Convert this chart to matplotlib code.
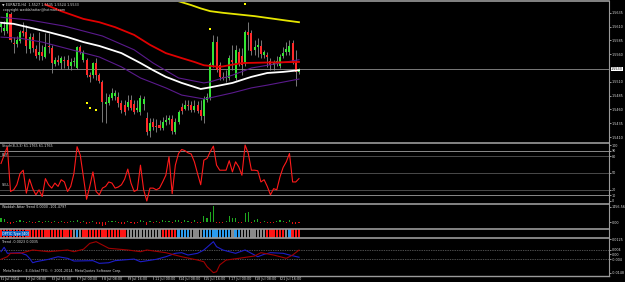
import matplotlib
matplotlib.use('Agg')
import matplotlib.pyplot as plt
from matplotlib.patches import Rectangle

W, H = 625, 282

# ---------------- data ----------------
symbol_title = "EURNZD,H4  1.5527 1.5535 1.5524 1.5533"
copyright_txt = "copyright waddahattar@hotmail.com"
footer_txt = "MetaTrader - E-Global TFG, \u00a9 2001-2014, MetaQuotes Software Corp."

opens = [1.5609,1.5602,1.5602,1.5633,1.5580,1.5578,1.5584,1.5602,1.5600,1.5569,
         1.5591,1.5569,1.5559,1.5564,1.5555,1.5575,1.5571,1.5542,1.5550,1.5544,
         1.5550,1.5550,1.5539,1.5546,1.5535,1.5573,1.5550,1.5550,1.5522,1.5522,
         1.5544,1.5522,1.5510,1.5470,1.5472,1.5481,1.5484,1.5482,1.5472,1.5468,
         1.5464,1.5477,1.5470,1.5459,1.5455,1.5470,1.5444,1.5421,1.5437,1.5430,
         1.5432,1.5426,1.5437,1.5441,1.5443,1.5419,1.5437,1.5464,1.5461,1.5468,
         1.5468,1.5459,1.5468,1.5459,1.5448,1.5477,1.5481,1.5540,1.5582,1.5540,
         1.5519,1.5517,1.5517,1.5550,1.5517,1.5564,1.5557,1.5544,1.5600,1.5598,
         1.5568,1.5573,1.5575,1.5559,1.5559,1.5548,1.5540,1.5546,1.5539,1.5557,
         1.5564,1.5564,1.5580,1.5546,1.5527]
closes = [1.5615,1.5607,1.5635,1.5586,1.5578,1.5586,1.5600,1.5598,1.5575,1.5591,
          1.5571,1.5557,1.5564,1.5557,1.5573,1.5573,1.5544,1.5550,1.5546,1.5553,
          1.5548,1.5539,1.5546,1.5548,1.5573,1.5564,1.5564,1.5522,1.5519,1.5544,
          1.5522,1.5511,1.5473,1.5473,1.5482,1.5490,1.5490,1.5472,1.5459,1.5455,
          1.5473,1.5463,1.5455,1.5463,1.5481,1.5479,1.5419,1.5435,1.5428,1.5428,
          1.5426,1.5437,1.5441,1.5444,1.5421,1.5437,1.5455,1.5457,1.5468,1.5466,
          1.5459,1.5466,1.5457,1.5448,1.5479,1.5482,1.5542,1.5582,1.5531,1.5519,
          1.5517,1.5519,1.5553,1.5546,1.5568,1.5542,1.5540,1.5600,1.5595,1.5566,
          1.5573,1.5577,1.5560,1.5564,1.5555,1.5540,1.5546,1.5548,1.5555,1.5562,
          1.5569,1.5575,1.5546,1.5527,1.5533]
highs = [1.5618,1.5620,1.5637,1.5637,1.5591,1.5593,1.5604,1.5618,1.5613,1.5598,
         1.5598,1.5577,1.5600,1.5577,1.5598,1.5598,1.5577,1.5555,1.5559,1.5557,
         1.5557,1.5559,1.5553,1.5555,1.5575,1.5577,1.5568,1.5553,1.5528,1.5546,
         1.5553,1.5526,1.5513,1.5490,1.5488,1.5499,1.5495,1.5492,1.5477,1.5477,
         1.5486,1.5486,1.5477,1.5477,1.5486,1.5484,1.5455,1.5444,1.5444,1.5443,
         1.5441,1.5446,1.5450,1.5450,1.5450,1.5444,1.5459,1.5472,1.5477,1.5477,
         1.5475,1.5477,1.5475,1.5477,1.5484,1.5490,1.5546,1.5595,1.5593,1.5546,
         1.5528,1.5531,1.5559,1.5577,1.5577,1.5571,1.5571,1.5604,1.5618,1.5604,
         1.5586,1.5589,1.5586,1.5568,1.5564,1.5553,1.5550,1.5557,1.5560,1.5573,
         1.5582,1.5586,1.5586,1.5568,1.5535]
lows = [1.5600,1.5595,1.5598,1.5582,1.5562,1.5573,1.5580,1.5593,1.5562,1.5562,
        1.5564,1.5553,1.5550,1.5550,1.5553,1.5562,1.5526,1.5539,1.5540,1.5533,
        1.5535,1.5533,1.5531,1.5539,1.5533,1.5560,1.5546,1.5519,1.5510,1.5517,
        1.5513,1.5508,1.5437,1.5435,1.5468,1.5477,1.5477,1.5464,1.5453,1.5450,
        1.5459,1.5459,1.5452,1.5455,1.5450,1.5459,1.5414,1.5410,1.5423,1.5419,
        1.5423,1.5423,1.5432,1.5434,1.5415,1.5415,1.5434,1.5452,1.5459,1.5459,
        1.5455,1.5455,1.5453,1.5441,1.5435,1.5473,1.5477,1.5537,1.5528,1.5513,
        1.5513,1.5510,1.5513,1.5531,1.5513,1.5539,1.5522,1.5539,1.5568,1.5559,
        1.5559,1.5555,1.5553,1.5553,1.5537,1.5531,1.5531,1.5539,1.5535,1.5553,
        1.5559,1.5559,1.5542,1.5502,1.5524]
last_price = 1.5533

# moving averages: (bar, price) vertices
ma_white_bars = [0, 4, 10, 15, 21, 26, 31, 38, 44, 48, 52, 57, 63, 66, 73, 79, 84, 89, 94]
ma_white = [1.5617,1.5615,1.5607,1.5600,1.5591,1.5582,1.5575,1.5562,1.5544,1.5531,
            1.5519,1.5508,1.5497,1.5500,1.5508,1.5519,1.5526,1.5528,1.5531]
ma_red_bars = [14, 19, 26, 31, 36, 42, 47, 52, 57, 61, 64, 69, 76, 84, 94]
ma_red = [1.5650,1.5638,1.5624,1.5618,1.5609,1.5595,1.5577,1.5562,1.5553,1.5546,
          1.5540,1.5537,1.5544,1.5545,1.5546]
ma_yellow_bars = [54, 56, 60, 63, 66, 70, 75, 80, 85, 90, 94]
ma_yellow = [1.5660,1.5656,1.5649,1.5643,1.5638,1.5635,1.5632,1.5629,1.5625,1.5621,1.5618]
band_up_bars = [0, 9, 20, 32, 42, 48, 56, 64, 66, 73, 79, 84, 94]
band_up = [1.5627,1.5622,1.5611,1.5593,1.5568,1.5544,1.5517,1.5508,1.5510,1.5522,
           1.5535,1.5540,1.5550]
band_dn_bars = [0, 6, 13, 25, 31, 38, 44, 52, 57, 64, 66, 73, 79, 84, 94]
band_dn = [1.5591,1.5589,1.5582,1.5564,1.5555,1.5537,1.5517,1.5499,1.5486,1.5479,
           1.5481,1.5490,1.5499,1.5504,1.5515]
signal_bars = [27, 28, 30, 66, 77]
signal_prices = [1.5472, 1.5463, 1.5459, 1.5606, 1.5651]

price_ticks = [1.5635, 1.5610, 1.5585, 1.5560, 1.5510, 1.5485, 1.5460, 1.5435, 1.5410]

stoch = [67,82,97,17,20,29,49,55,14,39,
         22,11,20,8,40,29,23,32,26,38,
         34,17,26,49,97,82,43,3,26,52,
         17,11,23,26,34,32,23,25,29,39,
         57,32,17,20,64,20,0,23,23,20,
         23,34,46,79,13,64,85,92,90,86,
         84,70,49,29,73,76,88,98,64,55,
         55,55,72,52,70,61,46,100,85,55,
         55,54,34,38,26,11,22,20,43,60,
         70,85,34,34,40]
stoch_levels = [90, 80, 50, 20, 10]

waddah = [390,290,-100,-150,-100,100,150,100,-100,100,
          -100,-100,50,-100,100,50,-100,100,-50,50,
          -50,-100,50,50,190,-100,100,-150,-100,100,
          -190,-150,-390,-290,100,100,100,-100,-150,-150,
          100,-100,-190,-100,150,100,-290,100,-100,100,
          -100,150,100,100,-100,150,190,-50,190,100,
          -100,150,-100,-100,580,390,970,1550,-100,-100,
          -100,100,580,390,390,-100,-100,870,970,-100,
          190,290,-100,100,-100,-100,-100,100,190,100,
          -100,190,-190,-190,-100]

optic_states = ("RRRRRRRRRRRRRRRRRRRRRRR" "GBG" "RRRRRRRRRRRRRR" "GGGGGGGGGGG" "RRRRR"
                "BBBB" "GGGG" "BBBBBBBBB" "G" "BB" "GGGGGGGG" "RRRRRR" "G" "B" "RRR")

trend_blue_bars = [0,1,2,6,8,9,10,11,15,18,21,23,29,31,34,36,42,44,49,52,55,57,59,62,
                   64,67,68,70,72,74,77,80,81,83,85,89,91,94]
trend_blue = [0.0022,0.0058,0.0009,0.0014,-0.0005,-0.0032,-0.0068,-0.0060,-0.0040,-0.0019,
              -0.0032,-0.0054,-0.0051,-0.0073,-0.0068,-0.0051,-0.0038,-0.0060,-0.0040,-0.0019,
              0.0009,0.0014,-0.0005,0.0009,0.0036,0.0104,0.0063,0.0036,0.0022,0.0009,
              0.0036,-0.0005,-0.0019,0.0001,0.0014,0.0009,-0.0005,-0.0023]
trend_red_bars = [0,2,3,6,8,10,15,21,23,26,28,30,34,40,44,46,52,57,62,64,65,67,68,69,
                  71,75,80,82,86,90,92,94]
trend_red = [-0.0040,-0.0019,0.0009,0.0009,0.0022,0.0036,0.0022,0.0036,0.0022,0.0042,
             0.0090,0.0104,0.0050,0.0036,0.0022,0.0036,0.0014,-0.0019,-0.0046,-0.0060,
             -0.0100,-0.0149,-0.0141,-0.0086,-0.0046,-0.0032,-0.0013,0.0014,-0.0005,-0.0032,
             -0.0005,0.0035]
trend_levels = [0.004, -0.004]

time_label_bars = [0, 8, 16, 24, 32, 40, 48, 56, 64, 72, 80, 88]
time_labels = ["1 Jul 2014", "2 Jul 08:00", "3 Jul 16:00", "7 Jul 00:00", "8 Jul 08:00",
               "9 Jul 16:00", "11 Jul 00:00", "14 Jul 08:00", "15 Jul 16:00",
               "17 Jul 00:00", "18 Jul 08:00", "21 Jul 16:00"]

# ---------------- layout helpers ----------------
BAR_PX = 3.17
PANE_W = 609
XLIM = (-1 / BAR_PX, (PANE_W - 1) / BAR_PX)
FS = 2.4
TXT = '#d8d8d8'
SEP = '#9a9a9a'

fig = plt.figure(figsize=(W / 100, H / 100), dpi=100, facecolor='black')


def pane(y0, y1):
    ax = fig.add_axes([0, 1 - y1 / H, PANE_W / W, (y1 - y0) / H])
    ax.set_facecolor('black')
    ax.set_xlim(*XLIM)
    ax.set_xticks([])
    for s in ax.spines.values():
        s.set_visible(False)
    ax.yaxis.tick_right()
    ax.tick_params(axis='y', colors=TXT, labelsize=FS, length=1.2, width=0.5, pad=0.8)
    return ax


def fx(x):
    return x / W


def fy(y):
    return 1 - y / H


# ---------------- main pane ----------------
ax = pane(2, 141)
ax.set_ylim(1.54028, 1.56546)
idx = list(range(len(opens)))
for i in idx:
    o, c, h, l = opens[i], closes[i], highs[i], lows[i]
    ax.vlines(i, l, h, color='#8c8c8c', lw=0.6, zorder=2)
    col = '#33e533' if c > o else ('#ff2a2a' if c < o else '#8c8c8c')
    bh = abs(c - o)
    ax.add_patch(Rectangle((i - 0.32, min(o, c)), 0.64, max(bh, 0.00006),
                           facecolor=col, edgecolor='none', zorder=3))
ax.plot(band_up_bars, band_up, color='#5a1a8c', lw=0.8, zorder=4)
ax.plot(band_dn_bars, band_dn, color='#5a1a8c', lw=0.8, zorder=4)
ax.plot(ma_red_bars, ma_red, color='#e00000', lw=1.3, zorder=4)
ax.plot(ma_white_bars, ma_white, color='white', lw=1.3, zorder=5)
ax.plot(ma_yellow_bars, ma_yellow, color='#e6e600', lw=1.3, zorder=4)
ax.scatter(signal_bars, signal_prices, s=2.5, marker='s', color='#ffff00', zorder=6, linewidths=0)
ax.axhline(last_price, color='#7a7a7a', lw=0.7, zorder=1)
ax.set_yticks(price_ticks)
ax.set_yticklabels([f"{v:.4f}" for v in price_ticks])
ax.text(1.0 + 2 / PANE_W, last_price, f"{last_price:.4f}", transform=ax.get_yaxis_transform(),
        fontsize=FS, color='black', va='center', ha='left',
        bbox=dict(boxstyle='square,pad=0.1', fc='white', ec='none'))
fig.text(fx(2), fy(4.5), "\u25bc " + symbol_title, fontsize=FS, color=TXT, va='center', ha='left')
fig.text(fx(3), fy(9.5), copyright_txt, fontsize=FS, color=TXT, va='center', ha='left')

# ---------------- stochastic pane ----------------
ax2 = pane(143, 203)
ax2.set_ylim(-3.6, 103.6)
for lv in stoch_levels:
    ax2.axhline(lv, color='#8a8a8a' if lv in (90, 10) else '#4a4a4a', lw=0.7, zorder=1)
ax2.plot(idx, stoch, color='#ff1a1a', lw=0.8, zorder=3)
ax2.set_yticks([100] + stoch_levels + [0])
ax2.set_yticklabels(["100"] + [str(v) for v in stoch_levels] + ["0"])
fig.text(fx(2), fy(146.5), "Stoch(8,3,3) 61.1765 61.1765", fontsize=FS, color=TXT, va='center')
fig.text(fx(2), fy(155.5), "BUY", fontsize=FS, color=TXT, va='center')
fig.text(fx(2), fy(185), "SELL", fontsize=FS, color=TXT, va='center')

# ---------------- waddah pane ----------------
ax3 = pane(204, 228)
ax3.set_ylim(-582, 1746)
wcols = ['#1fa81f' if v > 0 else '#e01010' for v in waddah]
ax3.bar(idx, waddah, width=0.35, color=wcols, zorder=3)
ax3.set_yticks([1456.56, 0])
ax3.set_yticklabels(["1456.56", "0.00"])
fig.text(fx(2), fy(207), "Waddah Attar Trend 0.0000 -101.4797", fontsize=FS, color=TXT, va='center')

# ---------------- optic colour pane ----------------
ax4 = pane(229, 238)
ax4.set_ylim(0, 1)
ax4.set_yticks([])
cmap = {'R': '#ff1414', 'G': '#8a8a8a', 'B': '#2a9cf0'}
ax4.bar(idx, [1] * len(optic_states), width=0.72, bottom=0,
        color=[cmap[s] for s in optic_states], zorder=2)
fig.text(fx(2), fy(233.5), "OPTIC Type [40]", fontsize=FS, color='white', va='center',
         bbox=dict(boxstyle='square,pad=0.15', fc='#1565c0', ec='none'))

# ---------------- trend pane ----------------
ax5 = pane(239, 275)
ax5.set_ylim(-0.0168, 0.01257)
for lv in trend_levels:
    ax5.axhline(lv, color='#9a9a9a', lw=0.5, ls=(0, (1, 1.5)), zorder=1)
ax5.plot(trend_blue_bars, trend_blue, color='#1e1ec8', lw=0.8, zorder=3)
ax5.plot(trend_red_bars, trend_red, color='#a00000', lw=0.8, zorder=3)
ax5.set_yticks([0.0125, 0.004, 0.0, -0.004, -0.0174 + 0.0026])
ax5.set_yticklabels(["0.0125", "0.004", "0.00", "-0.004", "-0.0148"])
fig.text(fx(2), fy(242), "Trend -0.0023 0.0035", fontsize=FS, color=TXT, va='center')
fig.text(fx(3), fy(271), footer_txt, fontsize=FS, color=TXT, va='center')

# ---------------- separators ----------------
for yy, lw in [(1.2, 1.2), (142.5, 1.2), (203.5, 1.2), (228.5, 1.2), (238.3, 1.2), (275.5, 1.0)]:
    fig.add_artist(plt.Line2D([0, fx(PANE_W)], [fy(yy), fy(yy)], color=SEP, lw=lw))
fig.add_artist(plt.Line2D([fx(PANE_W), fx(PANE_W)], [fy(1), fy(276)], color=SEP, lw=0.8))

# ---------------- time axis ----------------
for b, lab in zip(time_label_bars, time_labels):
    xp = 1 + b * BAR_PX
    fig.add_artist(plt.Line2D([fx(xp), fx(xp)], [fy(276), fy(279)], color=SEP, lw=0.5))
    fig.text(fx(xp + 1.5), fy(279), lab, fontsize=FS, color=TXT, va='center', ha='left')

fig.savefig('out.png', dpi=100, facecolor='black')
